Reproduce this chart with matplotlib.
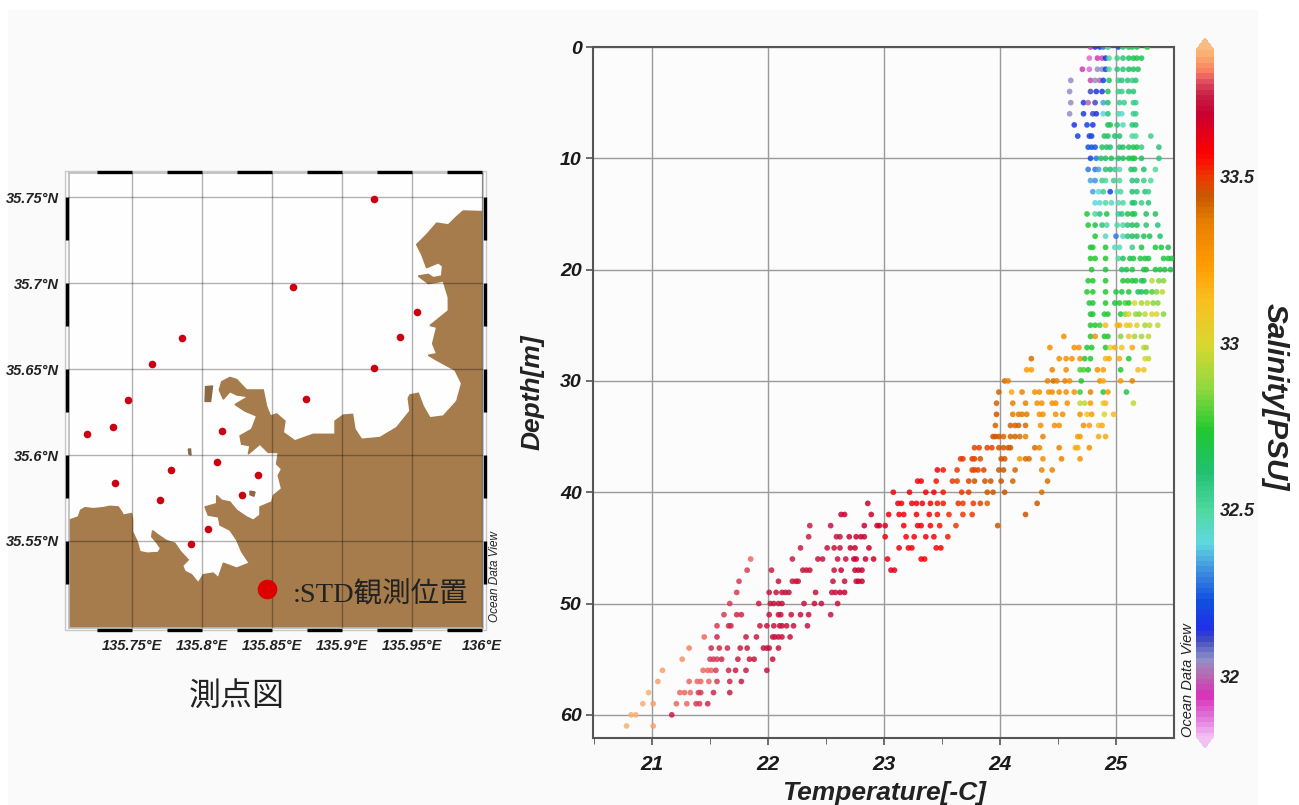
import matplotlib
matplotlib.use('Agg')
import matplotlib.pyplot as plt
import numpy as np
from matplotlib.colors import LinearSegmentedColormap, Normalize
from matplotlib.patches import Rectangle

W, H = 1299, 805

# --- STD cast data: row index = depth [m] ---
temp_rows = [
    [24.78, 24.82, 24.86, 24.89, 24.93, 25.02, 25.06, 25.11, 25.14, 25.18, 25.27],
    [24.77, 24.84, 24.88, 24.91, 24.94, 25.01, 25.06, 25.11, 25.15, 25.18, 25.22],
    [24.71, 24.77, 24.84, 24.88, 24.91, 24.94, 25.01, 25.06, 25.11, 25.15, 25.19],
    [24.61, 24.78, 24.82, 24.86, 24.89, 24.94, 25.02, 25.05, 25.10, 25.14, 25.17],
    [24.60, 24.78, 24.83, 24.88, 24.93, 25.02, 25.05, 25.11, 25.15],
    [24.61, 24.72, 24.76, 24.82, 24.89, 24.93, 25.03, 25.07, 25.15, 25.17],
    [24.60, 24.72, 24.80, 24.83, 24.89, 24.93, 25.02, 25.05, 25.15, 25.17],
    [24.64, 24.75, 24.80, 24.93, 24.95, 25.01, 25.06, 25.14, 25.17],
    [24.67, 24.77, 24.79, 24.90, 24.93, 24.99, 25.03, 25.14, 25.17, 25.30],
    [24.76, 24.79, 24.82, 24.88, 24.92, 24.95, 25.03, 25.06, 25.11, 25.15, 25.18, 25.22, 25.37],
    [24.78, 24.83, 24.87, 24.91, 24.96, 25.02, 25.06, 25.11, 25.14, 25.16, 25.22, 25.37],
    [24.76, 24.82, 24.85, 24.91, 24.95, 24.99, 25.03, 25.13, 25.16, 25.24, 25.34],
    [24.78, 24.82, 24.88, 24.91, 24.98, 25.03, 25.14, 25.18, 25.24, 25.30],
    [24.80, 24.85, 24.89, 24.95, 25.01, 25.04, 25.14, 25.18, 25.25, 25.28],
    [24.82, 24.86, 24.91, 24.96, 25.02, 25.06, 25.14, 25.16, 25.22, 25.28],
    [24.75, 24.82, 24.86, 24.92, 25.02, 25.05, 25.10, 25.14, 25.16, 25.26, 25.34],
    [24.76, 24.82, 24.88, 24.92, 25.01, 25.06, 25.10, 25.14, 25.18, 25.26, 25.36],
    [24.82, 24.91, 25.00, 25.06, 25.10, 25.14, 25.18, 25.24, 25.29, 25.38],
    [24.78, 24.80, 24.91, 24.99, 25.03, 25.14, 25.22, 25.34, 25.39, 25.45],
    [24.78, 24.82, 24.91, 25.02, 25.06, 25.12, 25.15, 25.21, 25.25, 25.28, 25.41, 25.45, 25.48],
    [24.79, 24.91, 25.05, 25.09, 25.14, 25.24, 25.26, 25.34, 25.38, 25.42, 25.47],
    [24.76, 24.80, 24.91, 25.06, 25.10, 25.14, 25.17, 25.22, 25.24, 25.31, 25.37, 25.41],
    [24.75, 24.80, 24.91, 25.00, 25.05, 25.11, 25.19, 25.22, 25.26, 25.31, 25.35, 25.40],
    [24.77, 24.80, 24.91, 24.99, 25.03, 25.08, 25.11, 25.16, 25.22, 25.27, 25.32, 25.36],
    [24.78, 24.80, 24.90, 24.93, 25.04, 25.08, 25.11, 25.17, 25.20, 25.25, 25.31, 25.35, 25.41],
    [24.78, 24.82, 24.86, 24.91, 25.01, 25.03, 25.09, 25.12, 25.18, 25.25, 25.29, 25.36],
    [24.55, 24.78, 24.82, 24.90, 24.93, 25.04, 25.11, 25.16, 25.22, 25.28],
    [24.43, 24.64, 24.68, 24.75, 24.79, 24.91, 24.95, 24.99, 25.05, 25.14, 25.24, 25.26],
    [24.27, 24.51, 24.57, 24.62, 24.69, 24.73, 24.78, 24.91, 24.94, 25.03, 25.11, 25.25, 25.28],
    [24.23, 24.27, 24.45, 24.57, 24.69, 24.72, 24.76, 24.84, 24.89, 25.04, 25.19, 25.24],
    [24.04, 24.07, 24.41, 24.46, 24.49, 24.56, 24.60, 24.70, 24.86, 24.89, 25.04, 25.14],
    [23.99, 24.10, 24.19, 24.30, 24.34, 24.42, 24.45, 24.51, 24.57, 24.64, 24.69, 24.78, 24.89, 24.93, 25.09],
    [23.97, 24.11, 24.22, 24.32, 24.36, 24.45, 24.48, 24.58, 24.69, 24.73, 24.78, 24.89, 24.91, 25.15],
    [23.97, 24.11, 24.16, 24.19, 24.23, 24.34, 24.37, 24.48, 24.54, 24.69, 24.75, 24.79, 24.90, 24.98],
    [23.96, 24.09, 24.13, 24.16, 24.22, 24.35, 24.47, 24.51, 24.72, 24.77, 24.85, 24.88],
    [23.94, 23.96, 23.99, 24.03, 24.09, 24.13, 24.17, 24.22, 24.37, 24.67, 24.69, 24.85, 24.91],
    [23.78, 23.82, 23.89, 23.93, 23.99, 24.03, 24.07, 24.09, 24.30, 24.34, 24.51, 24.65, 24.67, 24.77],
    [23.66, 23.68, 23.76, 23.78, 23.83, 24.01, 24.04, 24.17, 24.22, 24.25, 24.37, 24.53, 24.69],
    [23.46, 23.51, 23.63, 23.76, 23.78, 23.81, 23.86, 23.99, 24.03, 24.13, 24.36, 24.45],
    [23.29, 23.32, 23.45, 23.59, 23.63, 23.73, 23.78, 23.87, 23.92, 24.01, 24.11, 24.41],
    [23.08, 23.22, 23.36, 23.43, 23.51, 23.67, 23.73, 23.89, 23.94, 24.04, 24.36],
    [22.86, 23.12, 23.15, 23.24, 23.28, 23.33, 23.40, 23.46, 23.51, 23.64, 23.68, 23.77, 23.83, 23.89, 24.32],
    [22.63, 22.66, 22.89, 23.04, 23.13, 23.17, 23.28, 23.39, 23.46, 23.56, 23.68, 23.76, 24.22],
    [22.36, 22.54, 22.83, 22.94, 22.96, 23.01, 23.17, 23.29, 23.32, 23.40, 23.48, 23.62, 23.98],
    [22.35, 22.59, 22.62, 22.70, 22.76, 22.80, 22.83, 23.01, 23.19, 23.26, 23.36, 23.43, 23.55],
    [22.28, 22.51, 22.57, 22.62, 22.71, 22.75, 22.87, 23.13, 23.21, 23.24, 23.45, 23.49],
    [21.85, 22.21, 22.43, 22.47, 22.60, 22.67, 22.74, 22.76, 22.84, 22.91, 23.03, 23.32, 23.35],
    [21.82, 22.03, 22.30, 22.33, 22.36, 22.57, 22.63, 22.75, 22.78, 22.81, 23.06, 23.09],
    [21.75, 22.09, 22.21, 22.24, 22.26, 22.56, 22.66, 22.76, 22.78, 22.81],
    [21.73, 22.01, 22.07, 22.12, 22.15, 22.18, 22.41, 22.55, 22.58, 22.62, 22.66],
    [21.67, 21.92, 22.02, 22.05, 22.09, 22.12, 22.31, 22.40, 22.46, 22.60],
    [21.62, 21.73, 21.77, 22.01, 22.09, 22.11, 22.20, 22.28, 22.35, 22.54],
    [21.56, 21.66, 21.68, 21.93, 21.99, 22.05, 22.10, 22.12, 22.16, 22.22, 22.34],
    [21.45, 21.56, 21.81, 21.90, 22.04, 22.06, 22.09, 22.12, 22.19],
    [21.32, 21.51, 21.58, 21.65, 21.76, 21.82, 21.96, 21.99, 22.01, 22.09],
    [21.26, 21.50, 21.53, 21.56, 21.60, 21.74, 21.84, 21.88, 22.04],
    [21.09, 21.44, 21.48, 21.51, 21.55, 21.66, 21.72, 21.81, 21.99],
    [21.05, 21.32, 21.39, 21.42, 21.49, 21.56, 21.67, 21.77],
    [20.97, 21.24, 21.28, 21.33, 21.40, 21.42, 21.53, 21.67],
    [20.92, 21.01, 21.21, 21.30, 21.38, 21.41, 21.48],
    [20.82, 20.86, 21.17],
    [20.78, 21.01],
]

sal_rows = [
    [31.95, 32.15, 32.15, 32.30, 32.55, 32.20, 32.60, 32.70, 32.65, 32.70, 32.75],
    [31.90, 31.95, 31.98, 32.15, 32.50, 32.55, 32.60, 32.65, 32.68, 32.70, 32.65],
    [31.95, 31.90, 32.05, 32.05, 32.20, 32.50, 32.60, 32.60, 32.65, 32.65, 32.65],
    [32.05, 31.98, 32.05, 32.00, 32.20, 32.65, 32.55, 32.60, 32.60, 32.55, 32.60],
    [32.05, 32.12, 32.15, 32.18, 32.65, 32.55, 32.55, 32.60, 32.60],
    [32.05, 32.18, 32.00, 32.12, 32.35, 32.62, 32.55, 32.55, 32.55, 32.55],
    [32.05, 32.18, 32.12, 32.15, 32.40, 32.60, 32.50, 32.42, 32.55, 32.55],
    [32.15, 32.20, 32.15, 32.65, 32.68, 32.60, 32.45, 32.60, 32.62],
    [32.18, 32.20, 32.20, 32.65, 32.65, 32.62, 32.62, 32.50, 32.50, 32.55],
    [32.25, 32.25, 32.25, 32.65, 32.65, 32.62, 32.62, 32.65, 32.65, 32.68, 32.68, 32.55, 32.60],
    [32.22, 32.30, 32.62, 32.65, 32.68, 32.62, 32.65, 32.68, 32.70, 32.72, 32.65, 32.60],
    [32.30, 32.30, 32.35, 32.60, 32.62, 32.55, 32.45, 32.62, 32.65, 32.62, 32.50],
    [32.35, 32.32, 32.55, 32.50, 32.55, 32.50, 32.60, 32.60, 32.55, 32.50],
    [32.35, 32.40, 32.55, 32.20, 32.45, 32.50, 32.62, 32.60, 32.60, 32.55],
    [32.40, 32.40, 32.50, 32.45, 32.45, 32.50, 32.65, 32.62, 32.55, 32.60],
    [32.75, 32.50, 32.60, 32.72, 32.55, 32.60, 32.70, 32.70, 32.68, 32.65, 32.65],
    [32.75, 32.70, 32.60, 32.50, 32.50, 32.50, 32.60, 32.65, 32.65, 32.60, 32.60],
    [32.75, 32.45, 32.30, 32.45, 32.60, 32.65, 32.65, 32.68, 32.68, 32.62],
    [32.75, 32.75, 32.75, 32.45, 32.45, 32.55, 32.72, 32.72, 32.72, 32.68],
    [32.75, 32.75, 32.75, 32.50, 32.65, 32.70, 32.70, 32.72, 32.72, 32.70, 32.72, 32.72, 32.70],
    [32.72, 32.72, 32.65, 32.70, 32.70, 32.70, 32.72, 32.70, 32.72, 32.72, 32.72],
    [32.75, 32.75, 32.75, 32.75, 32.75, 32.72, 32.72, 32.68, 32.68, 32.95, 32.85, 32.85],
    [32.75, 32.75, 32.75, 32.72, 32.72, 32.72, 32.65, 32.65, 32.72, 32.80, 32.85, 32.95],
    [32.72, 32.72, 32.75, 32.72, 32.75, 32.80, 32.75, 33.00, 32.90, 32.95, 32.85, 32.85],
    [32.72, 32.72, 32.75, 32.75, 32.72, 32.85, 33.00, 32.88, 32.85, 32.95, 33.00, 33.00, 32.85],
    [32.75, 32.75, 32.78, 33.15, 33.15, 33.20, 33.05, 33.08, 33.02, 32.90, 32.95, 32.95],
    [33.30, 32.75, 33.30, 32.75, 32.75, 32.85, 33.10, 32.90, 32.90, 32.95],
    [33.30, 33.30, 33.30, 32.75, 32.75, 32.75, 33.00, 33.20, 33.10, 33.20, 32.95, 32.90],
    [33.40, 33.30, 33.30, 33.30, 33.30, 32.75, 32.75, 33.15, 33.20, 33.20, 32.75, 33.00, 32.95],
    [33.25, 33.25, 33.35, 33.30, 32.80, 32.80, 32.75, 33.30, 33.25, 32.75, 33.15, 33.10],
    [33.40, 33.35, 33.35, 33.40, 33.35, 33.35, 33.30, 32.75, 33.30, 33.20, 33.25, 33.35],
    [33.42, 33.20, 33.35, 33.30, 33.30, 33.30, 33.30, 33.30, 33.30, 33.30, 32.78, 33.35, 32.75, 33.25, 32.70],
    [33.42, 33.35, 33.35, 33.30, 33.30, 33.30, 33.30, 33.30, 32.95, 32.95, 33.25, 33.00, 33.15, 32.95],
    [33.45, 33.38, 33.38, 33.38, 33.38, 33.30, 33.30, 33.30, 33.30, 33.30, 33.10, 33.25, 33.00, 33.15],
    [33.42, 33.42, 33.42, 33.42, 33.40, 33.30, 33.30, 33.30, 33.30, 33.25, 33.10, 33.20],
    [33.45, 33.45, 33.45, 33.42, 33.42, 33.42, 33.40, 33.35, 33.35, 33.25, 33.25, 33.20, 33.20],
    [33.48, 33.48, 33.48, 33.48, 33.45, 33.45, 33.45, 33.45, 33.40, 33.35, 33.35, 33.20, 33.20, 33.30],
    [33.50, 33.50, 33.48, 33.48, 33.45, 33.45, 33.45, 33.25, 33.40, 33.40, 33.30, 33.35, 33.30],
    [33.60, 33.55, 33.50, 33.48, 33.48, 33.48, 33.48, 33.45, 33.45, 33.42, 33.35, 33.35],
    [33.60, 33.60, 33.55, 33.50, 33.48, 33.48, 33.45, 33.45, 33.45, 33.45, 33.42, 33.40],
    [33.60, 33.60, 33.60, 33.60, 33.55, 33.50, 33.50, 33.45, 33.45, 33.45, 33.40],
    [33.70, 33.62, 33.60, 33.60, 33.60, 33.60, 33.58, 33.55, 33.55, 33.52, 33.50, 33.50, 33.48, 33.42, 33.45],
    [33.70, 33.70, 33.68, 33.62, 33.60, 33.60, 33.60, 33.58, 33.55, 33.52, 33.50, 33.50, 33.45],
    [33.75, 33.72, 33.70, 33.68, 33.68, 33.65, 33.60, 33.60, 33.60, 33.58, 33.55, 33.50, 33.45],
    [33.75, 33.72, 33.72, 33.70, 33.70, 33.70, 33.70, 33.62, 33.60, 33.60, 33.60, 33.60, 33.55],
    [33.75, 33.72, 33.72, 33.72, 33.70, 33.70, 33.70, 33.62, 33.60, 33.60, 33.58, 33.58],
    [33.80, 33.75, 33.72, 33.72, 33.72, 33.72, 33.70, 33.70, 33.70, 33.68, 33.62, 33.58, 33.58],
    [33.78, 33.75, 33.72, 33.72, 33.72, 33.72, 33.70, 33.70, 33.70, 33.70, 33.65, 33.65],
    [33.78, 33.72, 33.72, 33.72, 33.72, 33.72, 33.72, 33.72, 33.70, 33.70],
    [33.78, 33.72, 33.72, 33.72, 33.72, 33.72, 33.72, 33.72, 33.72, 33.70, 33.70],
    [33.78, 33.75, 33.72, 33.72, 33.72, 33.72, 33.72, 33.72, 33.72, 33.72],
    [33.78, 33.76, 33.76, 33.72, 33.72, 33.72, 33.72, 33.72, 33.72, 33.72],
    [33.78, 33.76, 33.76, 33.74, 33.72, 33.72, 33.72, 33.72, 33.72, 33.72, 33.72],
    [33.80, 33.76, 33.74, 33.74, 33.72, 33.72, 33.72, 33.72, 33.72],
    [33.83, 33.76, 33.76, 33.76, 33.74, 33.74, 33.72, 33.72, 33.72, 33.72],
    [33.84, 33.78, 33.78, 33.78, 33.76, 33.74, 33.74, 33.72, 33.72],
    [33.85, 33.80, 33.80, 33.80, 33.78, 33.76, 33.75, 33.74, 33.72],
    [33.85, 33.80, 33.80, 33.80, 33.80, 33.78, 33.76, 33.74],
    [33.87, 33.80, 33.80, 33.80, 33.78, 33.78, 33.76, 33.74],
    [33.88, 33.85, 33.80, 33.80, 33.78, 33.78, 33.76],
    [33.87, 33.87, 33.75],
    [33.88, 33.85],
]

# colour scale of the salinity bar
cbar_sal = [31.82, 31.88, 31.94, 32.00, 32.05, 32.11, 32.14, 32.23, 32.32, 32.40, 32.50, 32.62, 32.74, 32.87,
            33.00, 33.13, 33.25, 33.37, 33.45, 33.50, 33.58, 33.70, 33.76, 33.80, 33.83, 33.88]
cbar_colors = ['#F0B8F0', '#E070D8', '#D830B8', '#B868B0', '#9090C8', '#404CC0', '#2030E8', '#1050E0', '#4090E0',
               '#60D8E0', '#50D8A0', '#20C070', '#20C830', '#90D840', '#D8D830', '#F8C020', '#FF9A00', '#E88000',
               '#C85A00', '#E84000', '#FF0000', '#C80030', '#C82048', '#E05060', '#F98060', '#F9B070']
cbar_ticks = [32, 32.5, 33, 33.5]
cbar_tick_labels = ['32', '32.5', '33', '33.5']

# --- map data ---
lon_ticks = [135.75, 135.8, 135.85, 135.9, 135.95, 136.0]
lon_labels = ['135.75°E', '135.8°E', '135.85°E', '135.9°E', '135.95°E', '136°E']
lat_ticks = [35.55, 35.6, 35.65, 35.7, 35.75]
lat_labels = ['35.55°N', '35.6°N', '35.65°N', '35.7°N', '35.75°N']
lon_bar_starts = [135.725, 135.775, 135.825, 135.875, 135.925, 135.975]
lat_bar_starts = [35.525, 35.575, 35.625, 35.675, 35.725]

station_lon = [135.9228, 135.8650, 135.9535, 135.9416, 135.9228, 135.7859, 135.7643, 135.7474, 135.8747, 135.7181,
               135.7364, 135.8145, 135.8107, 135.7781, 135.7383, 135.8402, 135.8285, 135.7705, 135.8043, 135.7921]
station_lat = [35.7488, 35.6979, 35.6831, 35.6687, 35.6506, 35.6681, 35.6531, 35.6319, 35.6329, 35.6125,
               35.6165, 35.6142, 35.5962, 35.5912, 35.5838, 35.5881, 35.5765, 35.5738, 35.5571, 35.5485]

coast_lon = [135.7053, 135.7053, 135.7119, 135.7136, 135.7167, 135.7226, 135.7298, 135.7345, 135.7405, 135.7429,
             135.7441, 135.7500, 135.7507, 135.7507, 135.7540, 135.7560, 135.7612, 135.7690, 135.7707, 135.7679,
             135.7643, 135.7650, 135.7690, 135.7750, 135.7809, 135.7850, 135.7905, 135.7864, 135.7881, 135.7928,
             135.7976, 135.8012, 135.8083, 135.8119, 135.8155, 135.8250, 135.8340, 135.8285, 135.8250, 135.8202,
             135.8131, 135.8119, 135.8047, 135.8024, 135.8107, 135.8107, 135.8143, 135.8202, 135.8250, 135.8321,
             135.8369, 135.8416, 135.8416, 135.8500, 135.8512, 135.8571, 135.8547, 135.8571, 135.8535, 135.8547,
             135.8476, 135.8416, 135.8333, 135.8345, 135.8285, 135.8274, 135.8357, 135.8393, 135.8309, 135.8238,
             135.8333, 135.8250, 135.8202, 135.8155, 135.8126, 135.8143, 135.8202, 135.8250, 135.8321, 135.8440,
             135.8464, 135.8492, 135.8535, 135.8595, 135.8583, 135.8666, 135.8797, 135.8952, 135.8952, 135.9011,
             135.9078, 135.9095, 135.9142, 135.9273, 135.9392, 135.9487, 135.9475, 135.9487, 135.9547, 135.9583,
             135.9630, 135.9725, 135.9821, 135.9856, 135.9809, 135.9678, 135.9618, 135.9678, 135.9649, 135.9678,
             135.9630, 135.9761, 135.9761, 135.9725, 135.9666, 135.9618, 135.9547, 135.9618, 135.9654, 135.9713,
             135.9720, 135.9690, 135.9606, 135.9571, 135.9535, 135.9606, 135.9678, 135.9761, 135.9821, 135.9868,
             136.0011, 136.0011]
coast_lat = [35.4995, 35.5621, 35.5640, 35.5679, 35.5694, 35.5688, 35.5694, 35.5702, 35.5698, 35.5669,
             35.5650, 35.5660, 35.5621, 35.5554, 35.5496, 35.5438, 35.5429, 35.5433, 35.5458, 35.5490,
             35.5525, 35.5560, 35.5535, 35.5502, 35.5487, 35.5438, 35.5390, 35.5356, 35.5323, 35.5304,
             35.5256, 35.5304, 35.5313, 35.5285, 35.5371, 35.5342, 35.5371, 35.5438, 35.5506, 35.5563,
             35.5592, 35.5640, 35.5650, 35.5698, 35.5717, 35.5765, 35.5737, 35.5727, 35.5679, 35.5640,
             35.5621, 35.5650, 35.5698, 35.5727, 35.5765, 35.5804, 35.5881, 35.5919, 35.5948, 35.6015,
             35.6015, 35.6063, 35.6006, 35.6054, 35.6063, 35.6112, 35.6150, 35.6227, 35.6256, 35.6294,
             35.6340, 35.6350, 35.6369, 35.6325, 35.6379, 35.6427, 35.6452, 35.6440, 35.6379, 35.6379,
             35.6283, 35.6227, 35.6240, 35.6198, 35.6131, 35.6083, 35.6121, 35.6121, 35.6198, 35.6233,
             35.6237, 35.6150, 35.6092, 35.6102, 35.6160, 35.6256, 35.6331, 35.6350, 35.6360, 35.6283,
             35.6217, 35.6227, 35.6313, 35.6417, 35.6494, 35.6552, 35.6581, 35.6590, 35.6648, 35.6744,
             35.6754, 35.6840, 35.6917, 35.7013, 35.7004, 35.6998, 35.7042, 35.7052, 35.7033, 35.7042,
             35.7100, 35.7119, 35.7090, 35.7167, 35.7225, 35.7283, 35.7350, 35.7340, 35.7388, 35.7421,
             35.7417, 35.4995]
islet_lon = [[135.8028, 135.8078, 135.8064, 135.8024], [135.8345, 135.8381, 135.8374, 135.8345],
             [135.7905, 135.7921, 135.7924, 135.7909]]
islet_lat = [[35.6398, 35.6402, 35.6312, 35.6312], [35.5790, 35.5785, 35.5760, 35.5769],
             [35.6035, 35.6035, 35.6000, 35.6006]]
legend_lon = 135.8470
legend_lat = 35.5223

plt.rcParams['font.family'] = ['Liberation Sans', 'DejaVu Sans']
plt.rcParams['font.style'] = 'italic'
plt.rcParams['font.weight'] = 'bold'
JP = ['Liberation Serif', 'Noto Sans CJK JP']


def box(l, t, r, b):
    # pixel box of the picture -> figure fraction
    return [l / W, 1 - b / H, (r - l) / W, (b - t) / H]


def ftext(x, y, s, **kw):
    fig.text(x / W, 1 - y / H, s, **kw)


fig = plt.figure(figsize=(W / 100, H / 100), dpi=100, facecolor='white')
fig.add_artist(Rectangle((8 / W, 0), 1250 / W, 795 / H, transform=fig.transFigure, facecolor='#FAFAFA',
                         edgecolor='none', zorder=-1))

# --- left: station map ---
ax_map = fig.add_axes(box(69, 173.3, 483.3, 627.7), facecolor='#FEFEFE')
ax_map.fill(coast_lon, coast_lat, color='#A67C4C', zorder=1)
for xs, ys in zip(islet_lon, islet_lat):
    ax_map.fill(xs, ys, color='#8A6A45', zorder=1)
ax_map.set_xlim(135.7053, 136.0011)
ax_map.set_ylim(35.4995, 35.764)
ax_map.set_xticks(lon_ticks, lon_labels, fontsize=10.5, color='#222222')
ax_map.set_yticks(lat_ticks, lat_labels, fontsize=10.5, color='#222222')
ax_map.tick_params(length=0, pad=8)
ax_map.tick_params(axis='y', pad=7)
ax_map.grid(True, color='black', alpha=0.3, linewidth=1.0, zorder=2)
ax_map.set_axisbelow(False)
for sp in ax_map.spines.values():
    sp.set_color('#BBBBBB')
    sp.set_linewidth(1.2)
ax_map.scatter(station_lon, station_lat, s=30, color='#CC0010', linewidths=0, zorder=4)
ax_map.scatter([legend_lon], [legend_lat], s=200, color='#DD0000', linewidths=0, zorder=4)

# alternating frame bars
for lo in lon_bar_starts:
    for yy in (1.003, -0.004):
        ax_map.plot([lo, lo + 0.025], [yy, yy], transform=ax_map.get_xaxis_transform(), color='black', lw=2.4,
                    solid_capstyle='butt', clip_on=False, zorder=5)
for la in lat_bar_starts:
    for xx in (-0.004, 1.004):
        ax_map.plot([xx, xx], [la, la + 0.025], transform=ax_map.get_yaxis_transform(), color='black', lw=2.4,
                    solid_capstyle='butt', clip_on=False, zorder=5)
fig.add_artist(Rectangle((65 / W, 1 - 630 / H), 421 / W, 459 / H, transform=fig.transFigure, facecolor='none',
                         edgecolor='#C8C8C8', linewidth=1, zorder=-0.5))

ftext(293, 595, ':STD観測位置', family=JP, style='normal', weight='normal', fontsize=20.5, color='#222222', va='center')
ftext(237, 697, '測点図', family=JP, style='normal', weight='normal', fontsize=23, color='#222222', va='center', ha='center')
ftext(495, 576, 'Ocean Data View', rotation=90, fontsize=8.5, weight='normal', color='#222222', ha='center', va='center')

# --- right: temperature / depth scatter ---
cmap = LinearSegmentedColormap.from_list('odv', [((s - cbar_sal[0]) / (cbar_sal[-1] - cbar_sal[0]), c)
                                                 for s, c in zip(cbar_sal, cbar_colors)], N=128)
norm = Normalize(cbar_sal[0], cbar_sal[-1])

depths, temps, sals = [], [], []
for d, (tr, sr) in enumerate(zip(temp_rows, sal_rows)):
    depths += [d] * len(tr)
    temps += tr
    sals += sr

ax = fig.add_axes(box(593, 47, 1174, 738), facecolor='#FCFCFC')
sc = ax.scatter(temps, depths, c=sals, cmap=cmap, norm=norm, s=17, alpha=0.85, linewidths=0, zorder=3)
ax.set_xlim(20.491, 25.5)
ax.set_ylim(62.08, 0)
ax.set_xticks([21, 22, 23, 24, 25])
ax.set_xticks([20.5, 21.5, 22.5, 23.5, 24.5], minor=True)
ax.set_yticks([0, 10, 20, 30, 40, 50, 60])
ax.tick_params(axis='both', length=5, width=1.2, color='#555555', labelcolor='#1A1A1A', direction='out')
ax.tick_params(axis='x', labelsize=15, pad=7)
ax.tick_params(axis='y', labelsize=14, pad=3)
ax.tick_params(axis='x', which='minor', length=4, color='#555555')
ax.grid(True, color='#9A9A9A', linewidth=1.0, zorder=1)
ax.set_axisbelow(True)
for sp in ax.spines.values():
    sp.set_color('#555555')
    sp.set_linewidth(1.5)

ftext(884, 793, 'Temperature[-C]', fontsize=19, color='#222222', ha='center', va='center')
ftext(533, 392, 'Depth[m]', fontsize=19, rotation=90, color='#222222', ha='center', va='center')
ftext(1275, 397, 'Salinity[PSU]', fontsize=21.5, rotation=270, color='#222222', ha='center', va='center')
ftext(1188, 680, 'Ocean Data View', rotation=90, fontsize=10.5, weight='normal', color='#222222', ha='center', va='center')

# salinity colour bar
cax = fig.add_axes(box(1196, 38, 1214, 748))
cb = fig.colorbar(sc, cax=cax, extend='both', extendfrac=0.0175, ticks=cbar_ticks)
cb.set_ticklabels(cbar_tick_labels)
cb.solids.set_alpha(1)
cb.solids.set_edgecolor('face')
cb.ax.tick_params(length=0, labelsize=13, pad=4, labelcolor='#222222')
cb.outline.set_visible(False)

fig.savefig('out.png', dpi=100)
